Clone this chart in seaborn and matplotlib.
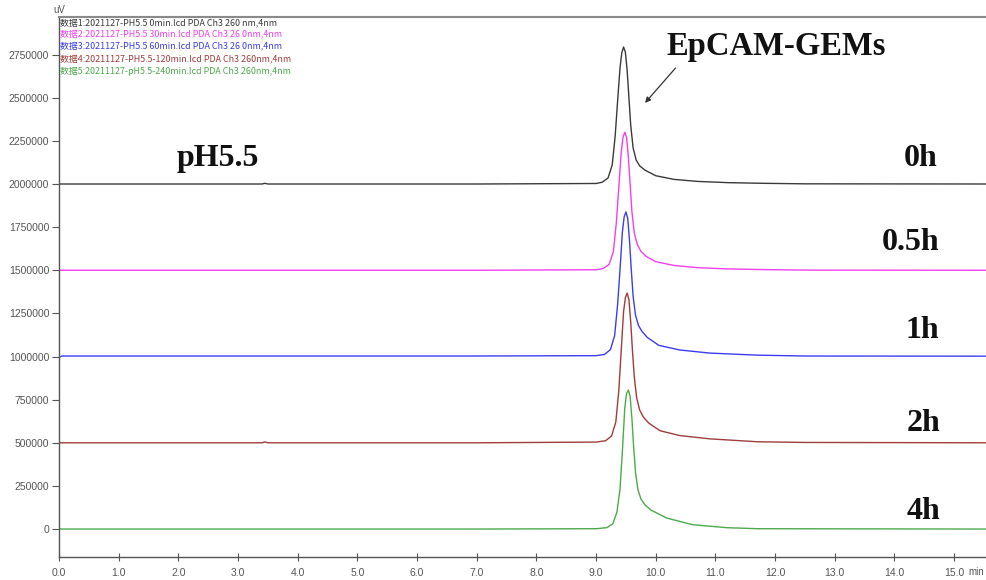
import matplotlib
matplotlib.use("Agg")
import matplotlib.pyplot as plt
import seaborn as sns
import pandas as pd
from matplotlib.ticker import MultipleLocator, FormatStrFormatter, FuncFormatter

# ---------------- data ----------------
samples = ["0h", "0.5h", "1h", "2h", "4h"]
colors = ["#3a3a3a", "#f040f0", "#3c3cf0", "#a03c3c", "#4caa4c"]
legend_texts = [
    "数据1:2021127-PH5.5 0min.lcd PDA Ch3 260 nm,4nm",
    "数据2:2021127-PH5.5 30min.lcd PDA Ch3 26 0nm,4nm",
    "数据3:2021127-PH5.5 60min.lcd PDA Ch3 26 0nm,4nm",
    "数据4:20211127-PH5.5-120min.lcd PDA Ch3 260nm,4nm",
    "数据5:20211127-pH5.5-240min.lcd PDA Ch3 260nm,4nm",
]

t_0h = [0.0, 3.40, 3.45, 3.50, 7.00, 9.00, 9.10, 9.20, 9.27, 9.32, 9.36, 9.40, 9.43, 9.46,
        9.49, 9.52, 9.55, 9.58, 9.62, 9.67, 9.73, 9.82, 10.00, 10.30, 10.70, 11.20, 11.80,
        12.50, 15.55]
s_0h = [2000000, 2000000, 2004000, 2000000, 2000000, 2003000, 2010000, 2035000, 2110000,
        2280000, 2480000, 2670000, 2760000, 2794000, 2765000, 2660000, 2500000, 2340000,
        2210000, 2140000, 2105000, 2080000, 2048000, 2027000, 2015000, 2008000, 2004000,
        2001000, 2000000]

t_05h = [0.0, 7.00, 9.00, 9.12, 9.22, 9.29, 9.34, 9.38, 9.42, 9.45, 9.48, 9.51, 9.54,
         9.57, 9.60, 9.64, 9.69, 9.75, 9.84, 10.00, 10.30, 10.70, 11.20, 11.80, 12.50, 15.55]
s_05h = [1500000, 1500000, 1503000, 1510000, 1535000, 1610000, 1780000, 1980000, 2180000,
         2270000, 2300000, 2270000, 2160000, 2000000, 1840000, 1715000, 1650000, 1610000,
         1580000, 1550000, 1528000, 1515000, 1508000, 1504000, 1501000, 1500000]

t_1h = [0.0, 0.05, 7.00, 9.00, 9.14, 9.24, 9.31, 9.36, 9.40, 9.44, 9.47, 9.50, 9.53,
        9.56, 9.59, 9.62, 9.66, 9.71, 9.77, 9.86, 10.05, 10.40, 10.90, 11.70, 12.50, 15.55]
s_1h = [995000, 1003000, 1003000, 1005000, 1012000, 1040000, 1120000, 1300000, 1500000,
        1720000, 1810000, 1838000, 1800000, 1670000, 1500000, 1350000, 1240000, 1180000,
        1145000, 1110000, 1065000, 1038000, 1020000, 1008000, 1003000, 1002000]

t_2h = [0.0, 3.40, 3.45, 3.50, 7.00, 9.00, 9.16, 9.26, 9.33, 9.38, 9.42, 9.46, 9.49,
        9.52, 9.55, 9.58, 9.61, 9.64, 9.68, 9.73, 9.79, 9.88, 10.07, 10.40, 10.90, 11.70,
        12.50, 15.55]
s_2h = [500000, 500000, 505000, 500000, 500000, 504000, 512000, 540000, 620000, 800000,
        1030000, 1260000, 1340000, 1368000, 1330000, 1200000, 1030000, 880000, 760000,
        690000, 650000, 615000, 570000, 542000, 523000, 506000, 502000, 500000]

t_4h = [0.0, 7.00, 9.00, 9.18, 9.28, 9.35, 9.40, 9.44, 9.48, 9.51, 9.54, 9.57, 9.60,
        9.63, 9.66, 9.70, 9.75, 9.82, 9.92, 10.18, 10.62, 11.19, 11.70, 15.55]
s_4h = [0, 0, 2000, 8000, 30000, 100000, 230000, 450000, 700000, 785000, 806000, 770000,
        640000, 470000, 330000, 230000, 175000, 140000, 110000, 64000, 25000, 8000, 2000, 0]

times = [t_0h, t_05h, t_1h, t_2h, t_4h]
signals = [s_0h, s_05h, s_1h, s_2h, s_4h]

label_x = [14.43, 14.27, 14.47, 14.48, 14.48]
label_y = [2150000, 1660000, 1150000, 610000, 100000]

# ---------------- build long table ----------------
rows = []
for name, tt, ss in zip(samples, times, signals):
    for a, b in zip(tt, ss):
        rows.append({"time": a, "signal": b, "sample": name})
df = pd.DataFrame(rows)

# ---------------- figure ----------------
sns.set_style("white")
plt.rcParams["font.family"] = ["Liberation Sans", "DejaVu Sans"]

fig = plt.figure(figsize=(9.87, 5.80), dpi=100)
ax = fig.add_axes([59 / 987, 23 / 580, (987 - 59) / 987, (557 - 17) / 580])

sns.lineplot(data=df, x="time", y="signal", hue="sample", hue_order=samples,
             palette=colors, estimator=None, sort=True, legend=False,
             linewidth=1.0, ax=ax)

ax.set_xlim(0, 15.55)
ax.set_ylim(-162000, 2968000)
ax.set_xlabel("")
ax.set_ylabel("")

ax.xaxis.set_major_locator(MultipleLocator(1.0))
ax.xaxis.set_minor_locator(MultipleLocator(0.2))
ax.xaxis.set_major_formatter(FormatStrFormatter("%.1f"))
ax.yaxis.set_major_locator(MultipleLocator(250000))
ax.yaxis.set_minor_locator(MultipleLocator(50000))
ax.yaxis.set_major_formatter(FuncFormatter(lambda v, p: f"{int(round(v))}"))

ax.tick_params(axis="x", which="major", direction="inout", length=6, width=0.8,
               color="#555555", labelsize=7.5, labelcolor="#555555", pad=5)
ax.tick_params(axis="x", which="minor", direction="in", length=3, width=0.8, color="#555555")
ax.tick_params(axis="y", which="major", direction="out", length=5, width=0.8,
               color="#555555", labelsize=7.5, labelcolor="#555555", pad=2)
ax.tick_params(axis="y", which="minor", direction="inout", length=3, width=0.8, color="#555555")
ax.tick_params(left=True, bottom=True)

for side in ["left", "bottom"]:
    ax.spines[side].set_color("#555555")
    ax.spines[side].set_linewidth(1.0)
ax.spines["top"].set_color("#8a8a8a")
ax.spines["top"].set_linewidth(1.5)
ax.spines["right"].set_visible(False)

# legend-like header lines
fam_cjk = ["Noto Sans CJK SC", "DejaVu Sans"]
header_y = [23, 34, 46, 59, 71]
for txt, c, yy in zip(legend_texts, colors, header_y):
    fig.text(60 / 987, 1 - yy / 580, txt, color=c, fontsize=6.4, family=fam_cjk,
             va="center", ha="left")
fig.text(53 / 987, 1 - 10 / 580, "uV", color="#555555", fontsize=7, va="center", ha="left")
fig.text(968 / 987, 1 - 572 / 580, "min", color="#555555", fontsize=7, va="center", ha="left")

# annotations
serif = dict(family="Liberation Serif", fontweight="bold", color="#111111")
ax.text(2.66, 2150000, "pH5.5", fontsize=23, ha="center", va="center", **serif)
for name, xx, yy in zip(samples, label_x, label_y):
    ax.text(xx, yy, name, fontsize=23, ha="center", va="center", **serif)

ax.text(12.02, 2795000, "EpCAM-GEMs", fontsize=23.5, ha="center", va="center", **serif)
ax.annotate("", xy=(9.82, 2470000), xytext=(10.33, 2672000),
            arrowprops=dict(arrowstyle="-|>", color="#333333", lw=0.9,
                            shrinkA=0, shrinkB=0, mutation_scale=8))

fig.savefig("out.png", dpi=100)
